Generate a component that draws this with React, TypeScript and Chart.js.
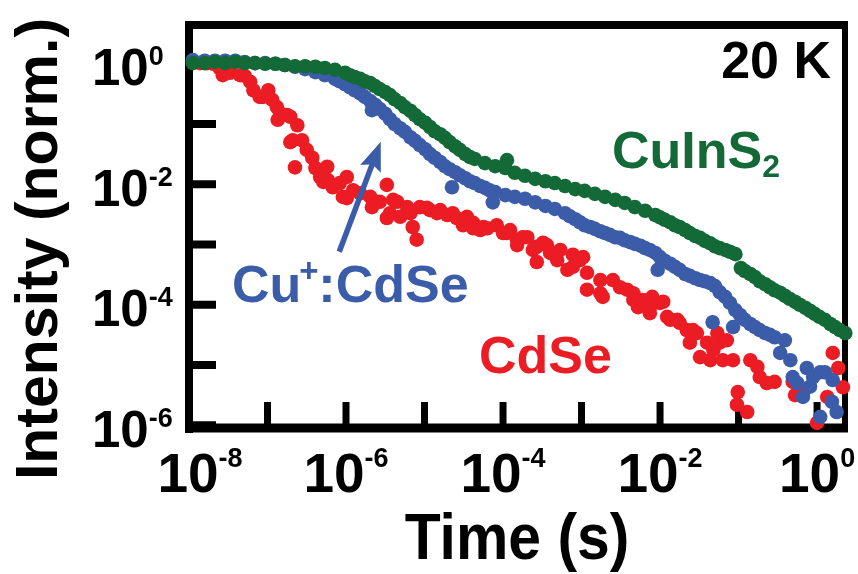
import React, { useEffect, useRef } from "react";
import { Chart, registerables } from "chart.js";

Chart.register(...registerables);

// ---- Data, stored as powers of ten (log10 of time in s, log10 of normalised intensity) ----
const cuinsTimeExp = [
  -7.95, -7.80, -7.67, -7.54, -7.41, -7.29, -7.16, -7.03, -6.90, -6.78,
  -6.65, -6.52, -6.39, -6.27, -6.14, -6.01, -5.95, -5.89, -5.82, -5.76,
  -5.69, -5.63, -5.57, -5.50, -5.44, -5.38, -5.31, -5.25, -5.18, -5.12,
  -5.06, -4.99, -4.93, -4.87, -4.80, -4.74, -4.68, -4.61, -4.55, -4.48,
  -4.42, -4.36, -4.23, -4.10, -3.97, -3.95, -3.85, -3.72, -3.59, -3.46,
  -3.34, -3.21, -3.08, -2.96, -2.83, -2.70, -2.57, -2.45, -2.32, -2.19,
  -2.06, -2.00, -1.94, -1.87, -1.81, -1.75, -1.68, -1.62, -1.55, -1.49,
  -1.43, -1.36, -1.30, -1.24, -1.17, -1.11, -1.04, -0.97, -0.92, -0.85,
  -0.79, -0.73, -0.66, -0.60, -0.54, -0.47, -0.41, -0.35, -0.28, -0.22,
  -0.15, -0.09, -0.03, 0.03, 0.10, 0.17, 0.23, 0.29, 0.36,
];
const cuinsIntExp = [
  0.01, 0.01, 0.03, 0.01, 0.03, 0.01, 0.01, 0.00, 0.00, -0.02,
  -0.04, -0.04, -0.05, -0.07, -0.10, -0.15, -0.19, -0.22, -0.25, -0.29,
  -0.32, -0.37, -0.42, -0.47, -0.52, -0.59, -0.65, -0.72, -0.78, -0.85,
  -0.92, -0.98, -1.05, -1.12, -1.17, -1.23, -1.30, -1.37, -1.43, -1.50,
  -1.55, -1.58, -1.65, -1.70, -1.73, -1.60, -1.81, -1.86, -1.91, -1.95,
  -1.98, -2.03, -2.08, -2.11, -2.16, -2.21, -2.26, -2.31, -2.38, -2.44,
  -2.51, -2.55, -2.59, -2.63, -2.68, -2.71, -2.76, -2.81, -2.86, -2.89,
  -2.94, -2.98, -3.03, -3.06, -3.09, -3.12, -3.16, -3.39, -3.44, -3.49,
  -3.54, -3.61, -3.66, -3.71, -3.76, -3.80, -3.85, -3.90, -3.95, -4.00,
  -4.05, -4.10, -4.15, -4.20, -4.25, -4.32, -4.37, -4.42, -4.47,
];

const cucdseTimeExp = [
  -7.95, -7.80, -7.67, -7.54, -7.41, -7.29, -7.16, -7.03, -6.90, -6.78,
  -6.65, -6.52, -6.39, -6.27, -6.14, -6.08, -6.01, -5.95, -5.89, -5.82,
  -5.76, -5.69, -5.67, -5.63, -5.57, -5.50, -5.44, -5.38, -5.31, -5.25,
  -5.18, -5.12, -5.06, -4.99, -4.93, -4.87, -4.80, -4.74, -4.68, -4.65,
  -4.61, -4.55, -4.48, -4.42, -4.36, -4.29, -4.23, -4.17, -4.13, -4.10,
  -3.97, -3.85, -3.72, -3.59, -3.46, -3.34, -3.21, -3.15, -3.08, -3.02,
  -2.96, -2.89, -2.83, -2.76, -2.70, -2.64, -2.57, -2.51, -2.45, -2.38,
  -2.32, -2.25, -2.19, -2.13, -2.06, -2.03, -2.00, -1.94, -1.87, -1.81,
  -1.75, -1.68, -1.62, -1.55, -1.49, -1.43, -1.36, -1.33, -1.30, -1.24,
  -1.17, -1.11, -1.07, -1.04, -0.98, -0.92, -0.85, -0.79, -0.73, -0.66,
  -0.60, -0.54, -0.47, -0.41, -0.34, -0.31, -0.25, -0.18, -0.13, -0.09,
  -0.05, 0.04, 0.04, 0.10, 0.19, 0.20, 0.25,
];
const cucdseIntExp = [
  0.06, 0.05, 0.05, 0.05, 0.05, 0.03, 0.01, 0.01, 0.00, -0.02,
  -0.05, -0.09, -0.14, -0.19, -0.25, -0.29, -0.34, -0.39, -0.44, -0.49,
  -0.55, -0.62, -0.77, -0.68, -0.75, -0.83, -0.92, -1.00, -1.07, -1.13,
  -1.22, -1.28, -1.35, -1.42, -1.50, -1.56, -1.63, -1.70, -1.75, -2.05,
  -1.80, -1.85, -1.90, -1.95, -1.98, -2.03, -2.06, -2.10, -2.30, -2.13,
  -2.18, -2.21, -2.24, -2.30, -2.36, -2.41, -2.48, -2.53, -2.58, -2.63,
  -2.68, -2.71, -2.74, -2.78, -2.81, -2.84, -2.88, -2.89, -2.93, -2.96,
  -2.99, -3.02, -3.06, -3.09, -3.14, -3.42, -3.21, -3.27, -3.32, -3.37,
  -3.42, -3.49, -3.52, -3.56, -3.59, -3.61, -3.64, -4.29, -3.69, -3.79,
  -3.87, -3.97, -4.37, -4.09, -4.17, -4.25, -4.32, -4.37, -4.42, -4.47,
  -4.50, -4.54, -4.80, -4.59, -4.92, -5.20, -5.30, -5.53, -5.05, -5.36,
  -5.20, -5.12, -5.86, -5.12, -5.61, -5.25, -5.78,
];

const cdseTimeExp = [
  -7.95, -7.86, -7.77, -7.69, -7.61, -7.57, -7.48, -7.35, -7.29, -7.22,
  -7.18, -7.10, -7.06, -6.99, -6.94, -6.88, -6.87, -6.84, -6.75, -6.71,
  -6.62, -6.68, -6.71, -6.65, -6.56, -6.50, -6.43, -6.39, -6.33, -6.29,
  -6.24, -6.23, -6.17, -6.08, -6.04, -5.99, -5.99, -5.91, -5.82, -5.69,
  -5.67, -5.57, -5.48, -5.48, -5.44, -5.40, -5.35, -5.31, -5.22, -5.18,
  -5.15, -5.10, -5.06, -4.97, -4.93, -4.84, -4.80, -4.71, -4.64, -4.59,
  -4.51, -4.46, -4.38, -4.38, -4.29, -4.25, -4.20, -4.08, -4.00, -3.95,
  -3.91, -3.82, -3.82, -3.75, -3.69, -3.62, -3.57, -3.57, -3.49, -3.44,
  -3.40, -3.31, -3.27, -3.18, -3.11, -3.11, -3.02, -2.98, -2.93, -2.93,
  -2.76, -2.76, -2.73, -2.60, -2.51, -2.42, -2.34, -2.34, -2.28, -2.25,
  -2.22, -2.13, -2.13, -2.10, -2.00, -1.96, -1.91, -1.87, -1.78, -1.75,
  -1.66, -1.62, -1.58, -1.53, -1.49, -1.40, -1.36, -1.32, -1.27, -1.24,
  -1.20, -1.15, -1.07, -1.02, -1.01, -0.89, -0.85, -0.76, -0.73, -0.64,
  -0.54, -0.31, -0.28, -0.18, 0.00, 0.13, 0.20, 0.27, 0.33,
];
const cdseIntExp = [
  0.03, 0.01, 0.01, 0.00, -0.07, -0.19, -0.15, -0.19, -0.20, -0.30,
  -0.44, -0.55, -0.55, -0.44, -0.60, -0.72, -0.93, -0.82, -0.85, -0.88,
  -1.02, -1.27, -1.30, -1.72, -1.27, -1.43, -1.56, -1.73, -1.88, -1.96,
  -1.71, -1.93, -2.05, -1.98, -2.21, -1.88, -2.23, -2.10, -2.15, -2.21,
  -2.38, -2.29, -2.01, -2.56, -2.48, -2.26, -2.29, -2.54, -2.38, -2.48,
  -2.71, -2.92, -2.38, -2.39, -2.43, -2.48, -2.43, -2.51, -2.48, -2.56,
  -2.68, -2.54, -2.64, -2.73, -2.76, -2.71, -2.73, -2.68, -2.81, -2.81,
  -2.76, -3.01, -2.93, -2.88, -2.88, -3.09, -3.04, -3.29, -2.97, -3.01,
  -3.14, -3.26, -3.09, -3.42, -3.17, -3.37, -3.26, -3.21, -3.47, -3.75,
  -3.59, -3.81, -3.87, -3.59, -3.71, -3.75, -3.81, -3.92, -4.04, -3.92,
  -3.92, -4.05, -4.14, -3.87, -3.97, -3.95, -4.20, -4.25, -4.25, -4.30,
  -4.42, -4.63, -4.42, -4.47, -4.87, -4.63, -4.92, -4.75, -4.47, -4.63,
  -4.92, -4.59, -4.92, -5.66, -5.45, -5.78, -4.92, -5.03, -5.20, -5.30,
  -5.28, -5.28, -5.50, -5.46, -5.96, -5.53, -4.80, -5.05, -5.37,
];

// Axis ticks (decades) and labelled decades
const xTickExps = [-8, -7, -6, -5, -4, -3, -2, -1, 0];
const xLabelExps = [-8, -6, -4, -2, 0];
const yTickExps = [0, -1, -2, -3, -4, -5, -6];
const yLabelExps = [0, -2, -4, -6];

// Axis range
const xMin = 1e-8;
const xMax = 2.27;
const yMin = 9.0e-7;
const yMax = 4.4;

// Arrow annotation (data coordinates): tail near the label, head on the Cu+:CdSe curve
const arrowTail = { x: 8.2e-7, y: 7.6e-4 };
const arrowTip = { x: 2.77e-6, y: 5.08e-2 };

const GREEN = "#136a37";
const BLUE = "#3b5ca9";
const RED = "#ec1c24";
const FONT = '"Liberation Sans", Arial, Helvetica, sans-serif';

function toPoints(tx: number[], iy: number[]) {
  const n = Math.min(tx.length, iy.length);
  const out: { x: number; y: number }[] = [];
  for (let i = 0; i < n; i++) out.push({ x: Math.pow(10, tx[i]), y: Math.pow(10, iy[i]) });
  return out;
}

function drawText(
  ctx: CanvasRenderingContext2D,
  s: string,
  x: number,
  y: number,
  size: number,
  color: string,
  align: CanvasTextAlign = "left",
  sx = 1
) {
  ctx.save();
  ctx.font = `bold ${size}px ${FONT}`;
  ctx.fillStyle = color;
  ctx.textAlign = align;
  ctx.textBaseline = "alphabetic";
  ctx.translate(x, y);
  ctx.scale(sx, 1);
  ctx.fillText(s, 0, 0);
  ctx.restore();
}

function textWidth(ctx: CanvasRenderingContext2D, s: string, size: number) {
  ctx.save();
  ctx.font = `bold ${size}px ${FONT}`;
  const w = ctx.measureText(s).width;
  ctx.restore();
  return w;
}

const framePlugin = {
  id: "frameAndTicks",
  beforeDatasetsDraw(chart: any) {
    const { ctx, chartArea: a, scales } = chart;
    const xs = scales.x;
    const ys = scales.y;
    ctx.save();
    ctx.strokeStyle = "#000";
    ctx.lineCap = "butt";
    // bottom ticks (inward)
    ctx.lineWidth = 7;
    for (const e of xTickExps) {
      const px = xs.getPixelForValue(Math.pow(10, e));
      ctx.beginPath();
      ctx.moveTo(px, a.bottom);
      ctx.lineTo(px, a.bottom - 26);
      ctx.stroke();
    }
    // left ticks (inward)
    ctx.lineWidth = 8;
    for (const e of yTickExps) {
      const py = ys.getPixelForValue(Math.pow(10, e));
      ctx.beginPath();
      ctx.moveTo(a.left, py);
      ctx.lineTo(a.left + 27, py);
      ctx.stroke();
    }
    // frame
    ctx.lineWidth = 8;
    ctx.beginPath();
    ctx.moveTo(a.left, a.top - 4);
    ctx.lineTo(a.left, a.bottom + 5);
    ctx.stroke();
    ctx.beginPath();
    ctx.moveTo(a.left - 4, a.top);
    ctx.lineTo(a.right + 3, a.top);
    ctx.stroke();
    ctx.lineWidth = 9;
    ctx.beginPath();
    ctx.moveTo(a.left - 4, a.bottom);
    ctx.lineTo(a.right + 3, a.bottom);
    ctx.stroke();
    ctx.lineWidth = 6;
    ctx.beginPath();
    ctx.moveTo(a.right, a.top - 4);
    ctx.lineTo(a.right, a.bottom + 4);
    ctx.stroke();
    ctx.restore();
  },
  afterDraw(chart: any) {
    const { ctx, scales } = chart;
    const xs = scales.x;
    const ys = scales.y;
    ctx.save();

    // x tick labels 10^n
    xLabelExps.forEach((e, i) => {
      const px = xs.getPixelForValue(Math.pow(10, e));
      const sup = String(e);
      const w1 = textWidth(ctx, "10", 55);
      const w2 = textWidth(ctx, sup, 27);
      const start = px - (w1 + w2) / 2 + (i === 0 ? 11 : 0);
      drawText(ctx, "10", start, 492, 55, "#000");
      drawText(ctx, sup, start + w1, 467, 27, "#000");
    });

    // y tick labels 10^n
    yLabelExps.forEach((e) => {
      const py = ys.getPixelForValue(Math.pow(10, e));
      const sup = String(e);
      const w1 = textWidth(ctx, "10", 51);
      drawText(ctx, "10", 92, py + 21.5, 51, "#000");
      drawText(ctx, sup, 92 + w1, py + 1.5, 27, "#000");
    });

    // axis titles
    ctx.save();
    ctx.translate(57, 249);
    ctx.rotate(-Math.PI / 2);
    drawText(ctx, "Intensity (norm.)", 0, 0, 59, "#000", "center");
    ctx.restore();
    drawText(ctx, "Time (s)", 517, 559, 64, "#000", "center", 0.92);

    // temperature
    drawText(ctx, "20 K", 831, 78, 52, "#000", "right");

    // series labels
    drawText(ctx, "CuInS", 612, 168, 52, GREEN);
    drawText(ctx, "2", 612 + textWidth(ctx, "CuInS", 52), 177, 32, GREEN);

    const cuW = textWidth(ctx, "Cu", 52);
    drawText(ctx, "Cu", 232, 302, 52, BLUE);
    drawText(ctx, "+", 232 + cuW - 2, 282, 33, BLUE);
    drawText(ctx, ":CdSe", 232 + cuW + 17, 302, 52, BLUE);

    drawText(ctx, "CdSe", 479, 373, 52, RED);

    // arrow
    const tx = xs.getPixelForValue(arrowTip.x);
    const ty = ys.getPixelForValue(arrowTip.y);
    const sx0 = xs.getPixelForValue(arrowTail.x);
    const sy0 = ys.getPixelForValue(arrowTail.y);
    const dx = tx - sx0;
    const dy = ty - sy0;
    const len = Math.hypot(dx, dy);
    const ux = dx / len;
    const uy = dy / len;
    const nx = -uy;
    const ny = ux;
    const L = 29;
    const W = 11;
    const bx = tx - ux * L;
    const by = ty - uy * L;
    ctx.strokeStyle = BLUE;
    ctx.fillStyle = BLUE;
    ctx.lineWidth = 5.5;
    ctx.beginPath();
    ctx.moveTo(sx0, sy0);
    ctx.lineTo(bx + ux * 6, by + uy * 6);
    ctx.stroke();
    ctx.beginPath();
    ctx.moveTo(tx, ty);
    ctx.lineTo(bx + nx * W, by + ny * W);
    ctx.lineTo(bx + ux * 5, by + uy * 5);
    ctx.lineTo(bx - nx * W, by - ny * W);
    ctx.closePath();
    ctx.fill();

    ctx.restore();
  },
};

export default function App() {
  const ref = useRef<HTMLCanvasElement>(null);

  useEffect(() => {
    if (!ref.current) return;
    const pointStyle = (color: string) => ({
      backgroundColor: color,
      borderColor: color,
      borderWidth: 0,
      pointRadius: 7.3,
      pointHoverRadius: 7.3,
      showLine: false,
      clip: false as any,
    });
    const chart = new Chart(ref.current, {
      type: "scatter",
      data: {
        datasets: [
          { label: "CuInS2", data: toPoints(cuinsTimeExp, cuinsIntExp), ...pointStyle(GREEN) },
          { label: "Cu+:CdSe", data: toPoints(cucdseTimeExp, cucdseIntExp), ...pointStyle(BLUE) },
          { label: "CdSe", data: toPoints(cdseTimeExp, cdseIntExp), ...pointStyle(RED) },
        ],
      },
      options: {
        responsive: false,
        maintainAspectRatio: false,
        devicePixelRatio: 1,
        animation: false,
        events: [],
        layout: { padding: { left: 189, right: 13, top: 25, bottom: 146 } },
        plugins: { legend: { display: false }, tooltip: { enabled: false } },
        scales: {
          x: { type: "logarithmic", display: false, min: xMin, max: xMax },
          y: { type: "logarithmic", display: false, min: yMin, max: yMax },
        },
      },
      plugins: [framePlugin],
    });
    return () => chart.destroy();
  }, []);

  return (
    <div style={{ position: "fixed", left: 0, top: 0, width: 858, height: 574, background: "#fff" }}>
      <canvas ref={ref} width={858} height={574} style={{ display: "block", width: 858, height: 574 }} />
    </div>
  );
}
